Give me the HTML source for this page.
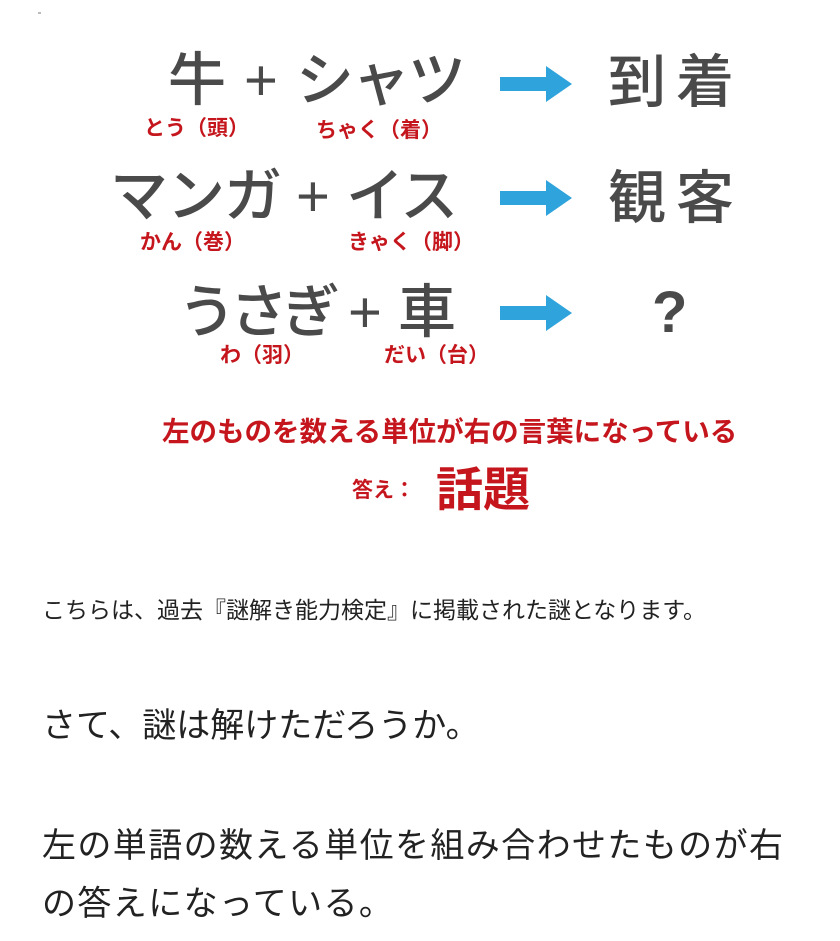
<!DOCTYPE html>
<html><head><meta charset="utf-8"><style>
body{margin:0;width:840px;height:941px;background:#fff;position:relative;overflow:hidden;font-family:"Liberation Sans","Noto Sans CJK JP",sans-serif}
.a{position:absolute;white-space:nowrap;line-height:1}
.big{font-size:58px;color:#4a4a4a;font-weight:500}
.r{color:#c4161c;font-weight:bold;font-size:21px}
.arr{position:absolute;width:72px;height:36px}
</style></head><body>
<div class="a" style="left:38px;top:12px;width:3px;height:2px;background:#bbb"></div>
<div class="a big" style="left:168px;top:52px">牛</div>
<div class="a big" style="left:244px;top:52px">+</div>
<div class="a big" style="left:296px;top:52px;letter-spacing:-2px">シャツ</div>
<div class="a big" style="left:608px;top:54px;letter-spacing:10px">到着</div>
<div class="a r" style="left:144px;top:118px">とう（頭）</div>
<div class="a r" style="left:316px;top:120px">ちゃく（着）</div>

<div class="a big" style="left:110px;top:168px;letter-spacing:-1px">マンガ</div>
<div class="a big" style="left:296px;top:168px">+</div>
<div class="a big" style="left:346px;top:168px;letter-spacing:-2px">イス</div>
<div class="a big" style="left:608px;top:170px;letter-spacing:10px">観客</div>
<div class="a r" style="left:140px;top:232px">かん（巻）</div>
<div class="a r" style="left:348px;top:232px">きゃく（脚）</div>

<div class="a big" style="left:178px;top:284px;letter-spacing:-6px">うさぎ</div>
<div class="a big" style="left:348px;top:284px">+</div>
<div class="a big" style="left:398px;top:284px">車</div>
<div class="a big" style="left:652px;top:284px;font-weight:bold">?</div>
<div class="a r" style="left:220px;top:345px">わ（羽）</div>
<div class="a r" style="left:384px;top:345px">だい（台）</div>

<svg class="arr" style="left:500px;top:66px" viewBox="0 0 72 36"><path d="M0 11H46V0L72 18 46 36V25H0Z" fill="#2fa3dc"/></svg>
<svg class="arr" style="left:500px;top:180px" viewBox="0 0 72 36"><path d="M0 11H46V0L72 18 46 36V25H0Z" fill="#2fa3dc"/></svg>
<svg class="arr" style="left:500px;top:295px" viewBox="0 0 72 36"><path d="M0 11H46V0L72 18 46 36V25H0Z" fill="#2fa3dc"/></svg>

<div class="a r" style="left:162px;top:418px;font-size:27.5px">左のものを数える単位が右の言葉になっている</div>
<div class="a r" style="left:352px;top:480px;font-size:21px">答え：</div>
<div class="a r" style="left:436px;top:466px;font-size:47px">話題</div>

<div class="a" style="left:42px;top:599px;font-size:23px;color:#222">こちらは、過去『謎解き能力検定』に掲載された謎となります。</div>
<div class="a" style="left:42px;top:709px;font-size:34px;color:#222">さて、謎は解けただろうか。</div>
<div class="a" style="left:42px;top:829px;font-size:34px;color:#222;letter-spacing:1.4px">左の単語の数える単位を組み合わせたものが右</div>
<div class="a" style="left:42px;top:887px;font-size:34px;color:#222;letter-spacing:1.4px">の答えになっている。</div>
</body></html>
